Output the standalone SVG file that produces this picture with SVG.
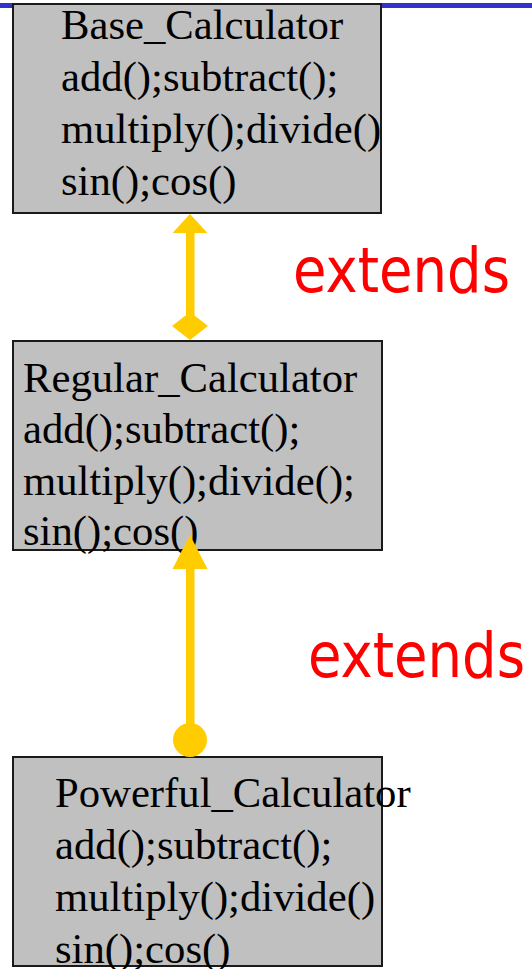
<svg xmlns="http://www.w3.org/2000/svg" width="532" height="969" viewBox="0 0 532 969">
<style>
.box{fill:#c0c0c0;stroke:#1a1a1a;stroke-width:2}
.t{font-family:"Liberation Serif","Times New Roman",serif;font-size:42.7px;fill:#000}
.ext{font-family:"DejaVu Sans",Verdana,sans-serif;font-size:62px;fill:#ff0000}
.conn{fill:#ffcc00;stroke:none}
</style>
<rect x="0" y="3" width="532" height="5" fill="#3333cc"/>
<g id="base">
<rect class="box" x="13" y="4" width="368" height="209"/>
<text class="t" x="61" y="39">Base_Calculator</text>
<text class="t" x="61" y="91">add();subtract();</text>
<text class="t" x="61" y="143">multiply();divide()</text>
<text class="t" x="61" y="195">sin();cos()</text>
</g>
<g id="regular">
<rect class="box" x="13" y="341" width="369" height="209"/>
<text class="t" x="23" y="392">Regular_Calculator</text>
<text class="t" x="23" y="443">add();subtract();</text>
<text class="t" x="23" y="495">multiply();divide();</text>
<text class="t" x="23" y="545">sin();cos()</text>
</g>
<g id="powerful">
<rect class="box" x="13" y="757" width="369" height="209"/>
<text class="t" x="55" y="807">Powerful_Calculator</text>
<text class="t" x="55" y="859">add();subtract();</text>
<text class="t" x="55" y="911">multiply();divide()</text>
<text class="t" x="55" y="963">sin();cos()</text>
</g>
<g id="connectors">
<rect class="conn" x="186" y="230" width="8.5" height="90"/>
<polygon class="conn" points="190,214 207.5,233 172.5,233"/>
<polygon class="conn" points="190,312 208,326 190,340 172,326"/>
<rect class="conn" x="186" y="565" width="8.5" height="170"/>
<polygon class="conn" points="190,535 207.5,569 172.5,569"/>
<circle class="conn" cx="190" cy="740" r="17"/>
</g>
<g id="labels">
<text class="ext" x="293" y="292" textLength="217" lengthAdjust="spacingAndGlyphs">extends</text>
<text class="ext" x="308" y="677" textLength="217" lengthAdjust="spacingAndGlyphs">extends</text>
</g>
</svg>
